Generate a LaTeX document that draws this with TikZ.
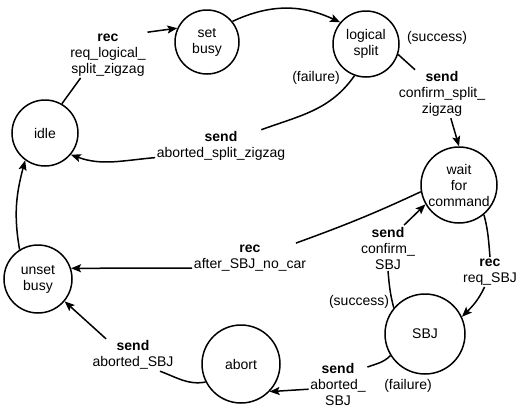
\documentclass[tikz,border=0pt]{standalone}
\usepackage{fontspec}
\setmainfont{Liberation Sans}
\usetikzlibrary{arrows.meta}

\begin{document}
\begin{tikzpicture}[x=1pt,y=1pt,line width=1.5pt,
    state/.style={circle,draw,inner sep=0pt,align=center,font=\fontsize{14}{16}\selectfont},
    trans/.style={align=center,inner sep=1pt,font=\fontsize{14}{16}\selectfont},
    outcome/.style={inner sep=1pt,font=\fontsize{14}{16}\selectfont},
    >={Stealth[length=10pt,width=8pt,inset=2pt]}]
  \useasboundingbox (0,0) rectangle (519,-407);

  \node[state,minimum size=66pt] (idle) at (45,-133) {idle};
  \node[state,minimum size=64pt] (setbusy) at (207,-42) {set\\busy};
  \node[state,minimum size=66pt] (logical) at (366,-44) {logical\\split};
  \node[state,minimum size=76pt] (waitfor) at (459,-185) {wait\\for\\command};
  \node[state,minimum size=68pt] (unsetbusy) at (38,-279) {unset\\busy};
  \node[state,minimum size=80pt] (SBJ) at (425,-334) {SBJ};
  \node[state,minimum size=78pt] (abort) at (241,-364) {abort};

  \node[trans] (reqsplit) at (108,-55) {\textbf{rec}\\req\_logical\_\\split\_zigzag};
  \node[trans] (abortsplit) at (221,-146) {\textbf{send}\\aborted\_split\_zigzag};
  \node[trans] (confsplit) at (442,-94) {\textbf{send}\\confirm\_split\_\\zigzag};
  \node[trans] (nocar) at (250,-258) {\textbf{rec}\\after\_SBJ\_no\_car};
  \node[trans] (reqsbj) at (490,-272) {\textbf{rec}\\req\_SBJ};
  \node[trans] (confsbj) at (388,-248) {\textbf{send}\\confirm\_\\SBJ};
  \node[trans] (abortsbj) at (338,-384) {\textbf{send}\\aborted\_\\SBJ};
  \node[trans] (abortedsbj) at (133,-355) {\textbf{send}\\aborted\_SBJ};

  \node[outcome] (splitfail) at (316,-78) {(failure)};
  \node[outcome] (splitok) at (437,-38) {(success)};
  \node[outcome] (sbjok) at (359,-302) {(success)};
  \node[outcome] (sbjfail) at (408,-386) {(failure)};

  \draw (idle.60) -- (reqsplit.220);
  \draw[->] (reqsplit.30) -- (setbusy.155);
  \draw[->] (setbusy.39) to[out=25,in=155] (logical.140);
  \draw (logical.250) to[out=235,in=20] (abortsplit.22);
  \draw[->] (abortsplit.190) to[out=185,in=-20] (idle.-40);
  \draw (logical.-18) -- (confsplit.138);
  \draw[->] (confsplit.-70) -- (waitfor.north);
  \draw (waitfor.190) to[out=205,in=20] (nocar.18);
  \draw[->] (nocar.190) -- (unsetbusy.18);
  \draw[->] (unsetbusy.122) to[out=100,in=255] (idle.234);
  \draw (waitfor.-50) to[out=-75,in=95] (reqsbj.north);
  \draw[->] (reqsbj.-110) to[out=-115,in=45] (SBJ.25);
  \draw (SBJ.140) to[out=105,in=-85] (confsbj.south);
  \draw[->] (confsbj.55) -- (waitfor.210);
  \draw (SBJ.212) to[out=225,in=20] (abortsbj.30);
  \draw[->] (abortsbj.190) -- (abort.-44);
  \draw (abort.207) to[out=190,in=-20] (abortedsbj.-31);
  \draw[->] (abortedsbj.149) -- (unsetbusy.-40);
\end{tikzpicture}
\end{document}
